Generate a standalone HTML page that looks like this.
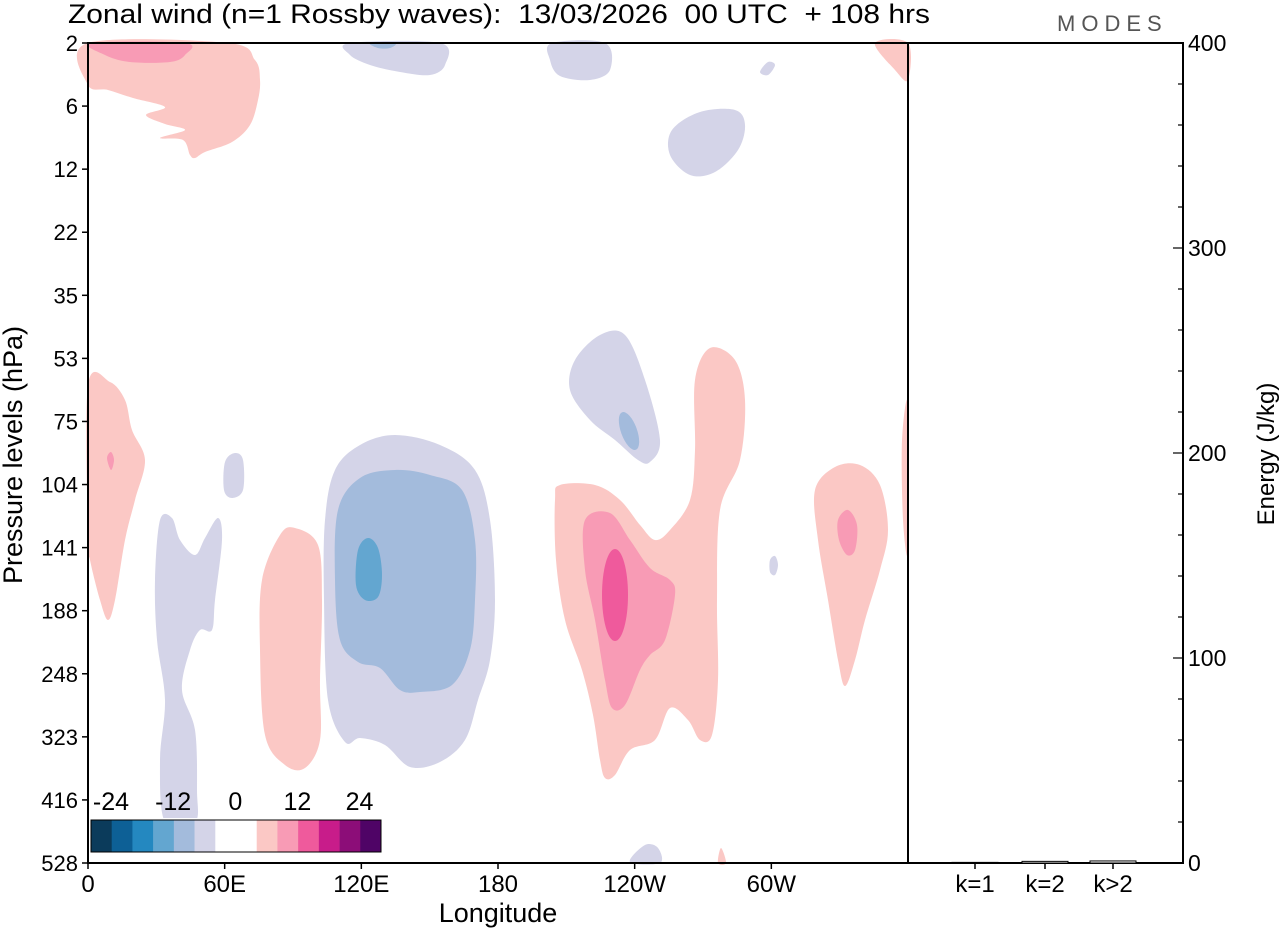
<!DOCTYPE html>
<html><head><meta charset="utf-8"><style>
body{margin:0;background:#fff;}
svg{display:block;font-family:"Liberation Sans",sans-serif;}
text{white-space:pre;}
</style></head><body>
<svg width="1280" height="930" viewBox="0 0 1280 930">
<text x="68" y="23" font-size="27" textLength="862" lengthAdjust="spacingAndGlyphs" xml:space="preserve">Zonal wind (n=1 Rossby waves):  13/03/2026  00 UTC  + 108 hrs</text>
<text x="1057" y="31" font-size="22" letter-spacing="6" fill="#555">MODES</text>
<g id="contours"></g>
<g id="cbar"></g>
<g id="axes"></g>
<g id="energy"></g>
</svg>
<script>
const levels=["2","6","12","22","35","53","75","104","141","188","248","323","416","528"];
const lonTicks=["0","60E","120E","180","120W","60W"];
const energyCats=["k=1","k=2","k>2"];
const energyVals=[0.3,0.8,1.0];
const energyTicks=[0,100,200,300,400];
const cbColors=["#0b3b5b","#0d6096","#2488c0","#63a6d0","#a3bbdc","#d4d4e8","#ffffff","#ffffff","#fbc8c5","#f89bb5","#ef5a9c","#c81c8a","#8c0d78","#4f0466"];
const cbLabels=["-24","-12","0","12","24"];
const NS="http://www.w3.org/2000/svg";
const PX0=88,PX1=908,PY0=43,PY1=863,RX1=1183;
function el(t,a,p){const e=document.createElementNS(NS,t);for(const k in a)e.setAttribute(k,a[k]);p.appendChild(e);return e;}
function smooth(pts){let d="";const n=pts.length;for(let i=0;i<n;i++){const p0=pts[(i-1+n)%n],p1=pts[i],p2=pts[(i+1)%n],p3=pts[(i+2)%n];if(i==0)d+="M"+p1[0]+","+p1[1];const c1=[p1[0]+(p2[0]-p0[0])/6,p1[1]+(p2[1]-p0[1])/6],c2=[p2[0]-(p3[0]-p1[0])/6,p2[1]-(p3[1]-p1[1])/6];d+="C"+c1+" "+c2+" "+p2;}return d+"Z";}
const LP="#fbc8c5",MP="#f89bb5",HP="#ef5a9c",LV="#d4d4e8",LB="#a3bbdc",BL="#63a6d0";
const shapes=[
[LP,[[88,43],[228,43],[255,60],[260,80],[258,100],[250,125],[232,142],[205,152],[195,158],[190,155],[183,140],[160,138],[185,130],[165,124],[146,115],[165,107],[133,98],[108,90],[88,85]],"pink-top-left"],
[MP,[[92,43],[185,43],[185,55],[170,62],[130,62],[105,55]],"pink-top-left-core"],
[LV,[[350,43],[440,43],[445,65],[430,75],[400,72],[370,65],[350,55]],"lavender-top"],
[LB,[[370,43],[395,43],[390,48],[378,48]],"blue-top"],
[LV,[[552,43],[605,43],[610,70],[590,80],[560,76],[550,60]],"lavender-top-2"],
[LV,[[760,72],[768,62],[775,65],[768,75]],"lavender-small-top"],
[LV,[[672,130],[700,112],[735,110],[745,125],[738,150],[715,172],[690,175],[670,155]],"lavender-12hpa"],
[LP,[[875,43],[908,43],[908,80],[895,70]],"pink-top-right"],
[LP,[[88,385],[110,382],[125,400],[132,430],[145,460],[135,500],[125,540],[115,600],[108,620],[100,600],[90,560],[88,540]],"pink-left"],
[MP,[[107,458],[111,452],[114,460],[111,470]],"pink-left-core"],
[LV,[[225,462],[235,453],[243,460],[243,490],[232,498],[224,490]],"lavender-104-60e"],
[LV,[[160,520],[172,518],[180,540],[195,555],[205,538],[218,518],[222,540],[215,600],[212,630],[200,630],[190,650],[182,690],[195,730],[197,790],[195,822],[165,822],[160,760],[165,700],[157,640],[155,580]],"lavender-40e"],
[LP,[[262,580],[280,535],[295,528],[318,545],[322,600],[320,680],[320,740],[305,768],[285,765],[265,735],[260,650]],"pink-90e"],
[LV,[[335,470],[360,445],[395,435],[440,445],[475,470],[490,520],[495,600],[490,660],[478,700],[465,740],[440,762],[410,767],[385,745],[360,738],[345,742],[328,700],[324,600],[325,520]],"lavender-150e"],
[LB,[[338,510],[360,478],[395,470],[430,475],[462,490],[475,540],[475,600],[470,650],[452,685],[420,692],[400,690],[380,668],[358,662],[340,640],[335,580]],"blue-150e"],
[BL,[[358,550],[368,538],[378,548],[382,575],[378,597],[365,600],[356,585]],"blue-core-120e"],
[LV,[[575,360],[600,335],[625,335],[645,380],[660,440],[650,462],[638,460],[615,440],[590,420],[570,390]],"lavender-100w"],
[LP,[[560,485],[595,485],[620,500],[640,525],[655,540],[670,530],[690,500],[695,450],[695,380],[710,348],[735,360],[745,400],[740,460],[720,510],[717,600],[718,680],[712,735],[700,740],[688,720],[670,708],[655,740],[630,750],[615,775],[605,778],[600,760],[593,715],[582,670],[565,620],[556,560],[555,500]],"pink-120w"],
[MP,[[585,520],[610,513],[630,540],[650,568],[670,580],[675,595],[665,640],[650,655],[640,670],[625,705],[612,708],[605,680],[595,620],[585,570]],"pink-120w-mid"],
[LP,[[815,490],[835,467],[860,465],[880,485],[888,530],[880,570],[865,620],[855,660],[845,686],[838,660],[828,600],[818,540]],"pink-30w"],
[MP,[[838,520],[848,510],[857,525],[855,550],[847,555],[839,540]],"pink-30w-core"],
[LP,[[902,440],[908,405],[908,550],[903,520]],"pink-right-edge"],
[LV,[[770,560],[775,556],[778,565],[775,575],[770,572]],"lavender-small-60w"],
[LV,[[630,862],[645,845],[658,848],[660,863]],"lavender-bottom"],
[LP,[[718,863],[721,848],[726,863]],"pink-bottom"]
];
const cg=document.getElementById("contours");
shapes.forEach(s=>{const p=el("path",{d:smooth(s[1]),fill:s[0]},cg);});
const hp=el("ellipse",{cx:615,cy:595,rx:13,ry:46,fill:HP},cg);


const bc=el("ellipse",{cx:629,cy:431,rx:8,ry:20,fill:LB,transform:"rotate(-20 629 431)"},cg);


// colorbar
const cb=document.getElementById("cbar");
el("rect",{x:88,y:818,width:296,height:38,fill:"#fff"},cb);
const cw=290/cbColors.length;
cbColors.forEach((c,i)=>{const r=el("rect",{x:91+i*cw,y:820,width:cw+0.3,height:32,fill:c},cb);});
el("rect",{x:91,y:820,width:290,height:32,fill:"none",stroke:"#000","stroke-width":1},cb);
cbLabels.forEach((l,i)=>{const t=el("text",{x:111+i*cw*3,y:810,"font-size":25,"text-anchor":"middle"},cb);t.textContent=l;});
// axes
const ax=document.getElementById("axes");
el("rect",{x:PX0,y:PY0,width:RX1-PX0,height:PY1-PY0,fill:"none",stroke:"#000","stroke-width":2},ax);
el("line",{x1:PX1,y1:PY0,x2:PX1,y2:PY1,stroke:"#000","stroke-width":2},ax);
const yOf=i=>PY0+i*(PY1-PY0)/(levels.length-1);
levels.forEach((l,i)=>{const y=yOf(i);el("line",{x1:PX0-6,y1:y,x2:PX0,y2:y,stroke:"#000","stroke-width":1.5},ax);const t=el("text",{x:PX0-10,y:y+8,"font-size":22,"text-anchor":"end"},ax);t.textContent=l;});
const xOf=i=>PX0+i*(PX1-PX0)/6;
lonTicks.forEach((l,i)=>{const x=xOf(i);el("line",{x1:x,y1:PY1,x2:x,y2:PY1+6,stroke:"#000","stroke-width":1.5},ax);const t=el("text",{x:x,y:PY1+29,"font-size":24,"text-anchor":"middle"},ax);t.textContent=l;});
const xt=el("text",{x:498,y:922,"font-size":27,"text-anchor":"middle"},ax);xt.textContent="Longitude";


const yt=el("text",{x:0,y:0,"font-size":27,"text-anchor":"middle",transform:"translate(22 455) rotate(-90)"},ax);yt.textContent="Pressure levels (hPa)";


const eY=v=>PY1-v*(PY1-PY0)/400;
for(let v=0;v<=400;v+=20){const y=eY(v);const big=v%100==0;el("line",{x1:RX1,y1:y,x2:RX1-(big?10:5),y2:y,stroke:"#000","stroke-width":1.2},ax);}
energyTicks.forEach(v=>{const t=el("text",{x:RX1+5,y:eY(v)+8,"font-size":23},ax);t.textContent=v;});
const et=el("text",{x:0,y:0,"font-size":24,"text-anchor":"middle",transform:"translate(1274 454) rotate(-90)"},ax);et.textContent="Energy (J/kg)";


const eg=document.getElementById("energy");
const kx=[975,1045,1113];
energyCats.forEach((c,i)=>{el("line",{x1:kx[i],y1:PY1,x2:kx[i],y2:PY1+6,stroke:"#000","stroke-width":1.5},ax);const t=el("text",{x:kx[i],y:PY1+29,"font-size":24,"text-anchor":"middle"},ax);t.textContent=c;
const h=PY1-eY(energyVals[i]);const r=el("rect",{x:kx[i]-23,y:eY(energyVals[i]),width:46,height:Math.max(h,0.5),fill:"#fff",stroke:"#000","stroke-width":1},eg);});
</script>
</body></html>
